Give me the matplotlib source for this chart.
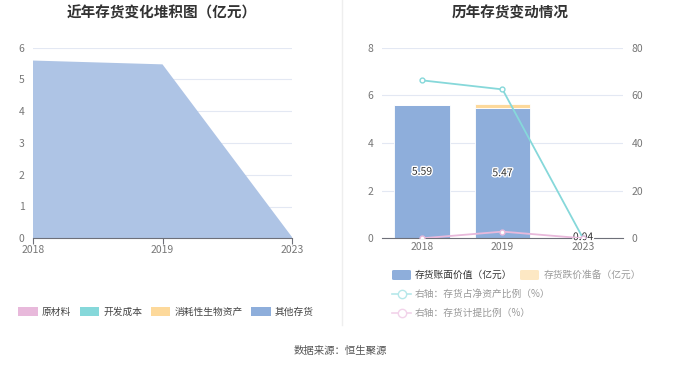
import numpy as np
import matplotlib
matplotlib.use("Agg")
import matplotlib.pyplot as plt
import matplotlib.patheffects as pe
from matplotlib.patches import Patch, FancyBboxPatch
from matplotlib.lines import Line2D

plt.rcParams['font.family'] = ['Noto Sans CJK SC', 'DejaVu Sans']

# 数据
years = ["2018", "2019", "2023"]
raw_material = [0.0, 0.0, 0.0]        # 原材料
dev_cost = [0.0, 0.0, 0.0]            # 开发成本
bio_assets = [0.0, 0.0, 0.0]          # 消耗性生物资产
other_inventory = [5.59, 5.47, 0.04]  # 其他存货

book_value = [5.59, 5.47, 0.04]       # 存货账面价值（亿元）
impairment = [0.0, 0.17, 0.0]         # 存货跌价准备（亿元）
net_asset_ratio = [66.3, 62.5, 0.0]   # 存货占净资产比例（%）
provision_ratio = [0.0, 2.8, 0.0]     # 存货计提比例（%）

c_pink = "#e8b9db"
c_teal = "#86d8da"
c_yellow = "#fdd99b"
c_blue = "#8eaedb"
c_area = "#aec4e5"
grid_c = "#e3e8f3"
tick_c = "#777777"
axis_c = "#6e7079"

fig = plt.figure(figsize=(6.8, 3.67), dpi=100)
W, H = 680, 367


def px_axes(x0, y0, x1, y1):
    return fig.add_axes([x0 / W, 1 - y1 / H, (x1 - x0) / W, (y1 - y0) / H])


# 左图：堆积面积
ax1 = px_axes(33, 47.5, 292, 238.3)
x = np.arange(len(years))
ax1.stackplot(x, raw_material, dev_cost, bio_assets, other_inventory,
              colors=[c_pink, c_teal, c_yellow, c_area], linewidth=0)
ax1.set_xlim(0, 2)
ax1.set_ylim(0, 6)
ax1.set_yticks(range(0, 7))
ax1.set_xticks(x)
ax1.set_xticklabels(years)
ax1.grid(axis="y", color=grid_c, linewidth=0.8)
ax1.set_axisbelow(True)
for s in ["top", "right", "left"]:
    ax1.spines[s].set_visible(False)
ax1.spines["bottom"].set_color(axis_c)
ax1.tick_params(axis="y", length=0, labelsize=7.5, labelcolor=tick_c, pad=6)
ax1.tick_params(axis="x", length=4, color=axis_c, labelsize=7.5, labelcolor=tick_c, pad=1)
fig.text(162 / W, 1 - 13 / H, "近年存货变化堆积图（亿元）", ha="center", va="center",
         fontsize=10.5, fontweight="bold", color="#333333")

left_handles = [Patch(facecolor=c, edgecolor="none") for c in [c_pink, c_teal, c_yellow, c_blue]]
fig.legend(left_handles, ["原材料", "开发成本", "消耗性生物资产", "其他存货"],
           loc="center", bbox_to_anchor=(166 / W, 1 - 312 / H), ncol=4, frameon=False,
           fontsize=7, handlelength=2.0, handleheight=1.0, handletextpad=0.4,
           columnspacing=0.9, labelcolor="#444444")

# 右图：柱状 + 折线
ax2 = px_axes(381.7, 47.7, 623.3, 238.3)
ax2.bar(x, book_value, width=0.69, color=c_blue, edgecolor="white", linewidth=0.6)
ax2.bar(x, impairment, width=0.69, bottom=book_value, color=c_yellow,
        edgecolor="white", linewidth=0.6)
for i, v in enumerate(book_value):
    ax2.text(x[i], v / 2 if v > 1 else 0.05, f"{v:.2f}", ha="center", va="center",
             fontsize=7.5, color="#333333",
             path_effects=[pe.withStroke(linewidth=2, foreground="white")])
ax2.set_xlim(-0.5, 2.5)
ax2.set_ylim(0, 8)
ax2.set_yticks(range(0, 9, 2))
ax2.set_xticks(x)
ax2.set_xticklabels(years)
ax2.grid(axis="y", color=grid_c, linewidth=0.8)
ax2.set_axisbelow(True)
for s in ["top", "right", "left"]:
    ax2.spines[s].set_visible(False)
ax2.spines["bottom"].set_color(axis_c)
ax2.tick_params(axis="y", length=0, labelsize=7.5, labelcolor=tick_c, pad=6)
ax2.tick_params(axis="x", length=0, labelsize=7.5, labelcolor=tick_c, pad=3)

ax3 = ax2.twinx()
ax3.plot(x, net_asset_ratio, color=c_teal, linewidth=1.3, marker="o", markersize=3.5,
         markerfacecolor="white", markeredgewidth=1.0)
ax3.plot(x, provision_ratio, color=c_pink, linewidth=1.3, marker="o", markersize=3.5,
         markerfacecolor="white", markeredgewidth=1.0)
ax3.set_ylim(0, 80)
ax3.set_yticks(range(0, 81, 20))
for s in ["top", "right", "left", "bottom"]:
    ax3.spines[s].set_visible(False)
ax3.tick_params(axis="y", length=0, labelsize=7.5, labelcolor=tick_c, pad=6)

fig.text(510 / W, 1 - 13 / H, "历年存货变动情况", ha="center", va="center",
         fontsize=10.5, fontweight="bold", color="#333333")

# 右图图例
for x0, col in [(392, c_blue), (520, "#fde8c4")]:
    fig.patches.append(FancyBboxPatch(
        (x0 / W, 1 - 280 / H), 19 / W, 10 / H, boxstyle="round,pad=0,rounding_size=0.003",
        transform=fig.transFigure, facecolor=col, edgecolor="none"))
fig.text(415 / W, 1 - 275 / H, "存货账面价值（亿元）", va="center", fontsize=7, color="#333333")
fig.text(544 / W, 1 - 275 / H, "存货跌价准备（亿元）", va="center", fontsize=7, color="#999999")

for yy, col, lab in [(294, "#b6e8ea", "右轴：存货占净资产比例（%）"),
                     (313, "#f2d3ea", "右轴：存货计提比例（%）")]:
    fig.add_artist(Line2D([392 / W, 411 / W], [1 - yy / H, 1 - yy / H], color=col,
                          linewidth=1.2, transform=fig.transFigure))
    fig.add_artist(Line2D([401.5 / W], [1 - yy / H], color=col, marker="o", markersize=6,
                          markerfacecolor="white", markeredgewidth=1.0,
                          transform=fig.transFigure))
    fig.text(415 / W, 1 - yy / H, lab, va="center", fontsize=7, color="#999999")

# 分隔线
fig.add_artist(Line2D([341.7 / W, 341.7 / W], [1 - 325 / H, 1.0], color="#eeeeee",
                      linewidth=1, transform=fig.transFigure))

fig.text(340 / W, 1 - 351 / H, "数据来源：恒生聚源", ha="center", va="center",
         fontsize=7.5, color="#555555")

fig.savefig("out.png", dpi=100, facecolor="white")
